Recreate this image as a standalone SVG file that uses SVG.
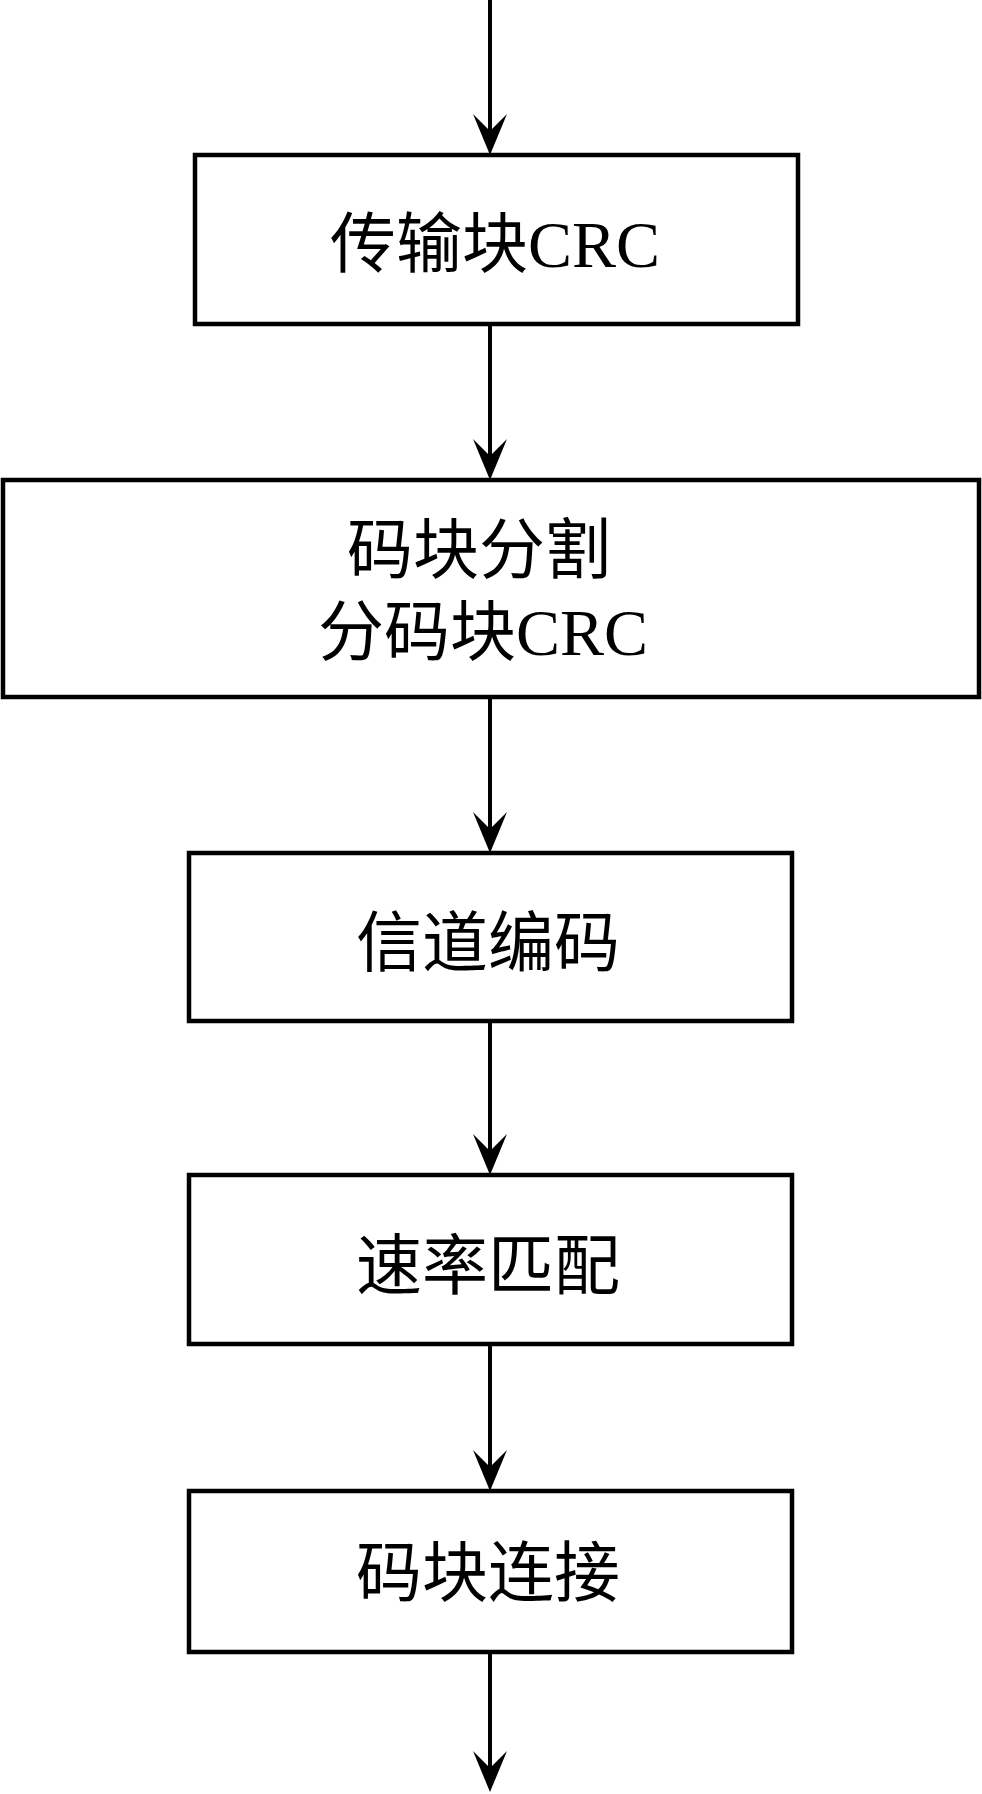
<svg xmlns="http://www.w3.org/2000/svg" width="982" height="1794" viewBox="0 0 982 1794">
<style>
.box{fill:#fff;stroke:#000;stroke-width:4.5}
.lbl{font-family:"Liberation Serif","Noto Sans CJK SC",serif;font-size:66px;fill:#000;text-anchor:middle}
.conn{stroke:#000;stroke-width:4;fill:none;marker-end:url(#arr)}
</style>
<defs>
<marker id="arr" markerUnits="userSpaceOnUse" viewBox="-44 -18 46 36" markerWidth="46" markerHeight="36" refX="-22" refY="0" orient="auto" overflow="visible">
<path d="M0,0 L-41,-17 L-24,0 L-41,17 Z" fill="#000"/>
</marker>
</defs>
<g id="connectors">
<line class="conn" x1="490" y1="0" x2="490" y2="133"/>
<line class="conn" x1="490" y1="324" x2="490" y2="458"/>
<line class="conn" x1="490" y1="697" x2="490" y2="831"/>
<line class="conn" x1="490" y1="1021" x2="490" y2="1153"/>
<line class="conn" x1="490" y1="1344" x2="490" y2="1469"/>
<line class="conn" x1="490" y1="1652" x2="490" y2="1770"/>
</g>
<g id="node1">
<rect class="box" x="195" y="155" width="603" height="169"/>
<text class="lbl" x="495" y="267">传输块CRC</text>
</g>
<g id="node2">
<rect class="box" x="3" y="480" width="976" height="217"/>
<text class="lbl" x="479" y="573">码块分割</text>
<text class="lbl" x="483" y="655">分码块CRC</text>
</g>
<g id="node3">
<rect class="box" x="189" y="853" width="603" height="168"/>
<text class="lbl" x="488" y="966">信道编码</text>
</g>
<g id="node4">
<rect class="box" x="189" y="1175" width="603" height="169"/>
<text class="lbl" x="488" y="1289">速率匹配</text>
</g>
<g id="node5">
<rect class="box" x="189" y="1491" width="603" height="161"/>
<text class="lbl" x="488" y="1596">码块连接</text>
</g>
</svg>
